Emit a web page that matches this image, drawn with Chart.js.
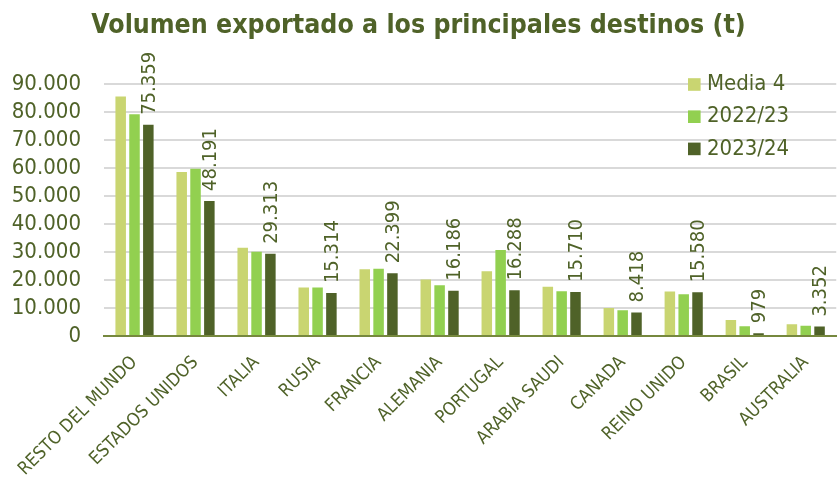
<!DOCTYPE html>
<html>
<head>
<meta charset="utf-8">
<script src="https://cdn.jsdelivr.net/npm/chart.js@4"></script>
<style>
  html, body { margin: 0; padding: 0; background: #fff; }
  canvas { display: block; }
</style>
</head>
<body>
<canvas id="chart" width="837" height="485"></canvas>
<script>
// destinos
const destinos = ['RESTO DEL MUNDO', 'ESTADOS UNIDOS', 'ITALIA', 'RUSIA', 'FRANCIA', 'ALEMANIA',
    'PORTUGAL', 'ARABIA SAUDI', 'CANADA', 'REINO UNIDO', 'BRASIL', 'AUSTRALIA'];

// toneladas
const media4 = [85500, 58500, 31500, 17300, 23800, 20200, 23150, 17550, 10000, 15900, 5700, 4200];
const campana2223 = [79100, 59700, 30100, 17300, 24000, 18150, 30700, 16000, 9200, 14900, 3500, 3700];
const campana2324 = [75359, 48191, 29313, 15314, 22399, 16186, 16288, 15710, 8418, 15580, 979, 3352];

const seriesNames = ['Media 4', '2022/23', '2023/24'];
const seriesColors = ['#c9d571', '#92d050', '#4f6228'];

const yTicksMax = 90000;
const yTicksStep = 10000;

const textColor = '#4f6228';
const fontFam = "'DejaVu Sans Condensed', 'DejaVu Sans', sans-serif";

function miles(v) {
    return String(Math.round(v)).replace(/\B(?=(\d{3})+(?!\d))/g, '.');
}

// etiquetas verticales sobre la ultima serie
const valueLabels = {
    id: 'valueLabels',
    afterDatasetsDraw(chart) {
        const ctx = chart.ctx;
        const meta = chart.getDatasetMeta(2);
        const data = chart.data.datasets[2].data;
        ctx.save();
        ctx.fillStyle = textColor;
        ctx.font = '20px ' + fontFam;
        ctx.textAlign = 'left';
        ctx.textBaseline = 'middle';
        meta.data.forEach((bar, i) => {
            ctx.save();
            ctx.translate(bar.x + 1.5, bar.y - 10);
            ctx.rotate(-Math.PI / 2);
            ctx.fillText(miles(data[i]), 0, 0);
            ctx.restore();
        });
        ctx.restore();
    }
};

// leyenda dentro del area del grafico
const insideLegend = {
    id: 'insideLegend',
    afterDraw(chart) {
        const ctx = chart.ctx;
        ctx.save();
        ctx.font = '22px ' + fontFam;
        ctx.textBaseline = 'middle';
        ctx.textAlign = 'left';
        chart.data.datasets.forEach((ds, i) => {
            const y = 84.5 + i * 32.2;
            ctx.fillStyle = ds.backgroundColor;
            ctx.fillRect(688, y - 6.3, 12.6, 12.6);
            ctx.fillStyle = textColor;
            ctx.fillText(ds.label, 707, y);
        });
        ctx.restore();
    }
};

new Chart(document.getElementById('chart'), {
    type: 'bar',
    data: {
        labels: destinos,
        datasets: [
            { label: seriesNames[0], data: media4, backgroundColor: seriesColors[0] },
            { label: seriesNames[1], data: campana2223, backgroundColor: seriesColors[1] },
            { label: seriesNames[2], data: campana2324, backgroundColor: seriesColors[2] }
        ]
    },
    options: {
        responsive: false,
        animation: false,
        categoryPercentage: 0.68,
        barPercentage: 0.76,
        layout: { padding: { left: 0, right: 0, top: 0, bottom: 0 } },
        plugins: {
            legend: { display: false },
            tooltip: { enabled: false },
            title: {
                display: true,
                text: 'Volumen exportado a los principales destinos (t)',
                color: textColor,
                font: { family: fontFam, size: 26.5, weight: 'bold' },
                padding: { top: 10, bottom: 42 }
            }
        },
        scales: {
            x: {
                grid: { display: false, drawTicks: false },
                border: { display: true, color: '#76883e', width: 2 },
                afterFit(scale) { scale.height = 149; },
                ticks: {
                    color: textColor,
                    font: { family: fontFam, size: 18 },
                    minRotation: 45,
                    maxRotation: 45,
                    autoSkip: false,
                    padding: 16
                }
            },
            y: {
                min: 0,
                max: yTicksMax,
                afterFit(scale) { scale.width = 104; },
                grid: { color: '#d9d9d9', lineWidth: 2, drawTicks: false },
                border: { display: false },
                ticks: {
                    stepSize: yTicksStep,
                    autoSkip: false,
                    color: textColor,
                    font: { family: fontFam, size: 22 },
                    padding: 23,
                    callback: v => miles(v)
                }
            }
        }
    },
    plugins: [valueLabels, insideLegend]
});
</script>
</body>
</html>
